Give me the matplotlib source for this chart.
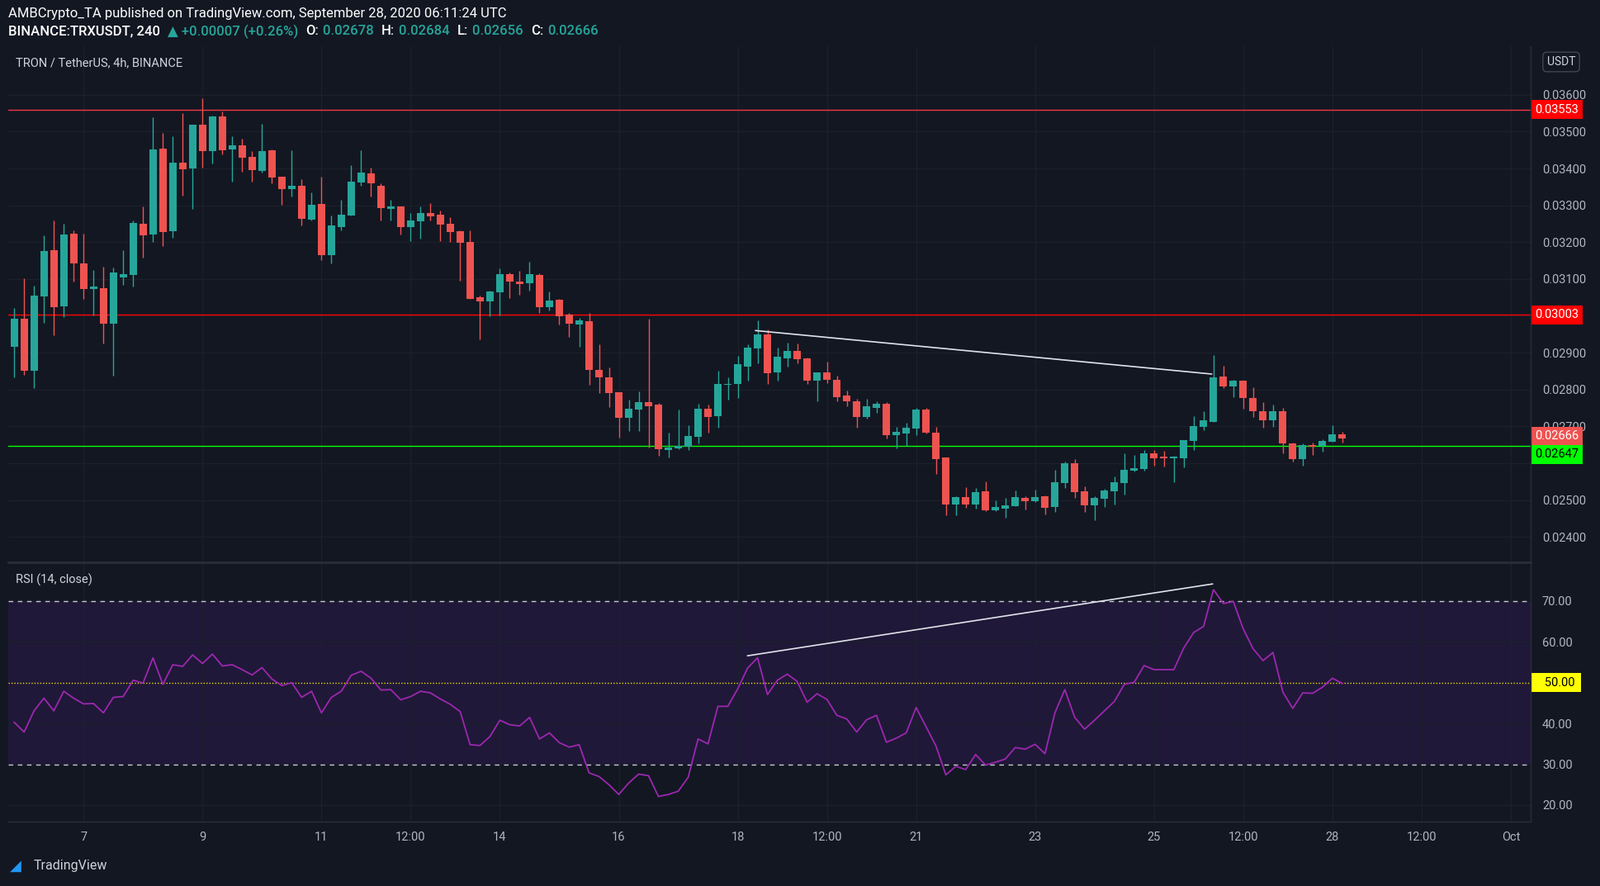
import numpy as np
import matplotlib
matplotlib.use("Agg")
import matplotlib.pyplot as plt
from matplotlib.ticker import FuncFormatter
import matplotlib.transforms as mtransforms

plt.rcParams["font.family"] = ["Roboto", "DejaVu Sans"]

# TRX/USDT 4h candles, prices in thousandths of USDT (first candle: Sep 5 20:00)
opens = [29.16, 29.92, 28.52, 30.53, 31.79, 30.25, 32.23, 31.43, 30.72, 30.76,
         29.79, 31.05, 31.12, 32.50, 32.21, 34.54, 32.30, 34.16, 34.00, 35.19,
         34.47, 35.41, 34.52, 34.63, 34.32, 33.94, 34.50, 33.78, 33.44, 33.54,
         32.61, 33.03, 31.65, 32.41, 32.72, 33.63, 33.87, 33.52, 32.90, 32.96,
         32.42, 32.56, 32.80, 32.74, 32.49, 32.29, 32.00, 30.51, 30.39, 30.64,
         31.13, 30.93, 30.89, 31.11, 30.24, 30.44, 30.04, 29.77, 29.86, 28.54,
         28.34, 27.92, 27.23, 27.45, 27.65, 27.58, 26.36, 26.40, 26.45, 26.71,
         27.47, 27.27, 28.12, 28.14, 28.63, 29.12, 29.50, 28.47, 28.85, 29.05,
         28.85, 28.23, 28.47, 28.27, 27.83, 27.69, 27.25, 27.51, 27.62, 26.75,
         26.80, 26.93, 27.45, 26.82, 26.15, 24.88, 25.08, 24.88, 25.24, 24.72,
         24.76, 24.84, 25.06, 24.97, 25.10, 24.81, 25.46, 26.00, 25.24, 24.86,
         25.04, 25.24, 25.46, 25.80, 25.84, 26.26, 26.18, 26.14, 26.14, 26.60,
         26.98, 27.13, 28.36, 28.09, 28.23, 27.78, 27.42, 27.16, 27.42, 26.53,
         26.11, 26.49, 26.46, 26.58, 26.78]
highs = [30.21, 31.02, 30.82, 32.19, 32.59, 32.50, 32.32, 32.23, 31.25, 31.34,
         31.32, 31.79, 32.59, 32.96, 35.39, 34.96, 34.87, 35.50, 35.19, 35.90,
         35.43, 35.54, 34.87, 34.81, 34.47, 35.21, 34.52, 33.78, 34.50, 33.70,
         33.36, 33.78, 32.72, 33.16, 34.10, 34.50, 34.03, 33.59, 33.16, 32.96,
         32.80, 32.96, 33.05, 32.85, 32.67, 32.31, 32.31, 30.55, 30.68, 31.29,
         31.17, 31.22, 31.46, 31.15, 30.66, 30.46, 30.08, 29.95, 30.08, 29.23,
         28.59, 27.92, 27.72, 27.94, 29.93, 27.63, 26.83, 27.45, 27.03, 27.61,
         27.58, 28.50, 28.32, 28.92, 29.23, 29.88, 29.64, 29.14, 29.28, 29.25,
         28.87, 28.47, 28.76, 28.38, 27.96, 27.74, 27.74, 27.69, 27.65, 26.98,
         27.09, 27.49, 27.49, 26.98, 26.15, 25.10, 25.35, 25.33, 25.51, 24.99,
         25.06, 25.26, 25.10, 25.28, 25.13, 25.81, 26.04, 26.11, 25.37, 25.10,
         25.30, 25.64, 26.26, 26.22, 26.35, 26.35, 26.33, 26.19, 26.62, 27.27,
         27.42, 28.94, 28.65, 28.27, 28.23, 28.05, 27.65, 27.58, 27.51, 26.55,
         26.53, 26.55, 26.64, 27.04, 26.84]
lows = [28.32, 28.39, 28.04, 29.81, 29.48, 29.96, 30.93, 30.46, 30.01, 29.26,
        28.37, 30.85, 30.79, 31.59, 32.01, 31.90, 32.12, 33.26, 32.90, 34.03,
        34.14, 34.39, 33.65, 33.92, 33.64, 33.90, 33.59, 33.01, 33.23, 32.45,
        32.59, 31.52, 31.43, 32.32, 32.72, 33.54, 33.25, 32.59, 32.59, 32.20,
        32.02, 32.09, 32.60, 32.02, 32.00, 30.95, 30.46, 29.37, 29.99, 30.01,
        30.48, 30.57, 30.68, 30.08, 30.15, 29.77, 29.43, 29.17, 28.12, 27.90,
        27.52, 26.69, 26.87, 26.87, 26.42, 26.20, 26.16, 26.38, 26.36, 26.54,
        26.83, 26.96, 27.72, 27.78, 28.25, 28.70, 28.14, 28.23, 28.63, 28.70,
        28.14, 27.67, 28.18, 27.69, 27.54, 26.96, 27.20, 27.36, 26.67, 26.40,
        26.46, 26.75, 26.80, 25.71, 24.59, 24.59, 24.79, 24.76, 24.70, 24.70,
        24.52, 24.84, 24.75, 24.95, 24.61, 24.68, 25.33, 25.06, 24.68, 24.46,
        24.81, 24.88, 25.15, 25.77, 25.80, 25.93, 25.91, 25.49, 25.89, 26.35,
        26.89, 27.11, 28.03, 27.80, 27.47, 27.25, 26.96, 26.99, 26.26, 26.04,
        25.93, 26.22, 26.31, 26.58, 26.55]
closes = [29.92, 28.52, 30.54, 31.76, 30.23, 32.21, 31.43, 30.72, 30.79, 29.79,
          31.17, 31.14, 32.52, 32.19, 34.52, 32.27, 34.16, 33.99, 35.19, 34.47,
          35.41, 34.50, 34.63, 34.30, 33.96, 34.47, 33.76, 33.44, 33.54, 32.63,
          33.01, 31.65, 32.45, 32.74, 33.65, 33.90, 33.59, 32.92, 32.96, 32.42,
          32.58, 32.80, 32.71, 32.47, 32.27, 31.98, 30.46, 30.39, 30.66, 31.13,
          30.93, 30.87, 31.13, 30.24, 30.42, 29.99, 29.79, 29.88, 28.54, 28.32,
          27.90, 27.23, 27.47, 27.65, 27.54, 26.38, 26.42, 26.47, 26.74, 27.47,
          27.25, 28.14, 28.16, 28.68, 29.14, 29.50, 28.45, 28.88, 29.05, 28.83,
          28.23, 28.47, 28.27, 27.80, 27.67, 27.25, 27.54, 27.62, 26.75, 26.84,
          26.96, 27.45, 26.82, 26.11, 24.88, 25.08, 24.88, 25.22, 24.72, 24.81,
          24.86, 25.08, 24.97, 25.08, 24.79, 25.48, 26.00, 25.22, 24.86, 25.06,
          25.26, 25.48, 25.81, 25.86, 26.26, 26.13, 26.13, 26.16, 26.62, 27.00,
          27.16, 28.34, 28.09, 28.23, 27.76, 27.40, 27.16, 27.40, 26.53, 26.11,
          26.49, 26.44, 26.60, 26.78, 26.66]
rsi = [40.3, 37.9, 43.1, 46.2, 43.1, 47.9, 46.2, 44.8, 44.9, 42.6,
       46.4, 46.6, 50.6, 49.9, 56.1, 49.6, 54.4, 54.0, 56.8, 54.7,
       57.0, 54.1, 54.4, 53.2, 51.9, 53.7, 50.9, 49.3, 50.0, 46.4,
       47.9, 42.6, 46.4, 47.9, 51.8, 52.8, 51.1, 48.2, 48.3, 45.8,
       46.6, 47.9, 47.5, 46.0, 44.7, 42.9, 34.8, 34.6, 36.8, 40.8,
       39.7, 39.4, 41.5, 36.2, 37.7, 35.3, 34.2, 34.8, 27.9, 27.0,
       25.0, 22.6, 25.4, 27.6, 27.2, 22.1, 22.6, 23.4, 26.8, 36.2,
       35.0, 44.2, 44.2, 48.5, 53.6, 56.1, 47.1, 50.6, 52.1, 50.3,
       45.2, 47.3, 45.9, 42.0, 41.1, 37.9, 40.9, 42.0, 35.4, 36.4,
       37.7, 43.9, 39.2, 34.5, 27.4, 29.5, 28.7, 32.4, 29.8, 30.5,
       31.3, 34.1, 33.7, 34.9, 32.6, 42.6, 48.3, 41.5, 38.6, 40.8,
       43.1, 45.4, 49.6, 50.1, 54.2, 53.2, 53.2, 53.2, 58.5, 62.3,
       63.8, 72.8, 69.4, 69.9, 63.2, 58.3, 55.4, 57.4, 47.7, 43.7,
       47.5, 47.4, 48.9, 51.1, 49.8]

tick_pos = [7, 19, 31, 40, 49, 61, 73, 82, 91, 103, 115, 124, 133, 142, 151]
tick_labels = ["7", "9", "11", "12:00", "14", "16", "18", "12:00", "21", "23",
               "25", "12:00", "28", "12:00", "Oct"]
price_ticks = [24, 25, 26, 27, 28, 29, 30, 31, 32, 33, 34, 35, 36]
hidden_price_ticks = [26, 30]   # covered by the level boxes
rsi_ticks = [20, 30, 40, 60, 70]

# horizontal levels and trend lines (drawn by the author)
levels = [(35.60, "#f23645"), (30.03, "#ff0000"), (26.47, "#00ff00")]
price_trend = ([74.8, 120.8], [29.60, 28.42])
rsi_trend = ([74.0, 120.9], [56.6, 74.2])
# right-axis labels: text, position, box colour, text colour
axis_labels = [("0.03553", 35.60, "#ff0000", "white"), ("0.03003", 30.03, "#ff0000", "white"),
               ("0.02666", 26.74, "#ef5350", "white"), ("0.02647", 26.24, "#00ff00", "black")]

BG = "#131722"
GRID = "#1c202b"
TXT = "#b2b5be"
UP = "#26a69a"
DOWN = "#ef5350"

W, H = 1938, 1073
fig = plt.figure(figsize=(W / 100, H / 100), dpi=100, facecolor=BG)


def fx(px):
    return px / W


def fy(py):
    return 1 - py / H


def price_fmt(v, p):
    if round(v) in hidden_price_ticks:
        return ""
    return f"{v / 1000:.5f}"


ax = fig.add_axes([fx(10), fy(680), fx(1854 - 10), fy(56) - fy(680)], facecolor=BG)
ax2 = fig.add_axes([fx(10), fy(995), fx(1854 - 10), fy(682) - fy(995)], facecolor=BG,
                   sharex=ax)

o = np.array(opens)
c = np.array(closes)
hi = np.array(highs)
lo = np.array(lows)
x = np.arange(len(o))
col = np.where(c >= o, UP, DOWN)

ax.vlines(x, lo, hi, colors=col, linewidth=1.0, zorder=3)
body = np.maximum(np.abs(c - o), 0.04)
ax.bar(x, body, bottom=np.minimum(o, c), width=0.75, color=col, zorder=4)

for lvl, lc in levels:
    ax.axhline(lvl, color=lc, linewidth=1.0, zorder=2)
ax.plot(price_trend[0], price_trend[1], color="#e0e3eb", linewidth=1.2, zorder=5)

ax.set_xlim(-0.6, 153)
ax.set_ylim(23.33, 37.32)
ax.set_yticks(price_ticks)
ax.yaxis.set_major_formatter(FuncFormatter(price_fmt))

# RSI pane
ax2.axhspan(30, 70, color="#201838", linewidth=0, zorder=0)
ax2.axhline(70, color="#c8cad0", linestyle=(0, (4, 4)), linewidth=1.0)
ax2.axhline(30, color="#c8cad0", linestyle=(0, (4, 4)), linewidth=1.0)
ax2.axhline(50, color="#e8e000", linestyle=(0, (1, 1.5)), linewidth=1.0)
ax2.plot(x, rsi, color="#9c27b0", linewidth=1.3, zorder=4)
ax2.plot(rsi_trend[0], rsi_trend[1], color="#e0e3eb", linewidth=1.2, zorder=5)
ax2.set_ylim(15.95, 79.3)
ax2.set_yticks(rsi_ticks)
ax2.yaxis.set_major_formatter(FuncFormatter(lambda v, p: f"{v:.2f}"))
ax2.set_xticks(tick_pos)
ax2.set_xticklabels(tick_labels)

for a in (ax, ax2):
    a.yaxis.tick_right()
    a.tick_params(axis="y", colors=TXT, labelsize=10.5, length=0, pad=10)
    a.tick_params(axis="x", colors=TXT, labelsize=10.5, length=0, pad=9)
    a.grid(True, color=GRID, linewidth=1.0, zorder=0)
    a.set_axisbelow(True)
    for s in a.spines.values():
        s.set_visible(False)
ax2.grid(False, axis="y")
for g in (20, 40, 60):
    ax2.axhline(g, color=GRID, linewidth=1.0, zorder=1)
plt.setp(ax.get_xticklabels(), visible=False)

# separators
fig.add_artist(plt.Line2D([fx(10), fx(1854)], [fy(681), fy(681)], color="#2a2e39", linewidth=2))
fig.add_artist(plt.Line2D([fx(1854), fx(1854)], [fy(56), fy(995)], color="#2a2e39", linewidth=1))
fig.add_artist(plt.Line2D([fx(10), fx(1854)], [fy(995), fy(995)], color="#2a2e39", linewidth=1))

# right-axis price labels
tr = mtransforms.blended_transform_factory(ax.transAxes, ax.transData)
for s, val, bg, fg in axis_labels:
    ax.text(1.003, val, s, transform=tr, ha="left", va="center",
            fontsize=10.5, color=fg, zorder=10, clip_on=False,
            bbox=dict(boxstyle="square,pad=0.3", fc=bg, ec="none"))
tr2 = mtransforms.blended_transform_factory(ax2.transAxes, ax2.transData)
ax2.text(1.003, 50, "   50.00 ", transform=tr2, ha="left", va="center", fontsize=10.5,
         color="black", clip_on=False, bbox=dict(boxstyle="square,pad=0.3", fc="#ffff00", ec="none"))

# header texts
fig.text(fx(10), fy(16), "AMBCrypto_TA published on TradingView.com, September 28, 2020 06:11:24 UTC",
         color="white", fontsize=12, va="center")
segs = [("BINANCE:TRXUSDT, 240 ", "white"), ("▲ +0.00007 (+0.26%) ", UP),
        ("O:", "white"), ("0.02678 ", UP), ("H:", "white"), ("0.02684 ", UP),
        ("L:", "white"), ("0.02656 ", UP), ("C:", "white"), ("0.02666", UP)]
renderer = fig.canvas.get_renderer()
xpos = 10
for s, cc in segs:
    t = fig.text(fx(xpos), fy(38), s, color=cc, fontsize=12, va="center", fontweight="medium")
    xpos += t.get_window_extent(renderer).width + 5
fig.text(fx(19), fy(76), "TRON / TetherUS, 4h, BINANCE", color="#d1d4dc", fontsize=10.5, va="center")
fig.text(fx(19), fy(702), "RSI (14, close)", color="#d1d4dc", fontsize=10.5, va="center")
fig.text(fx(1891), fy(75), "USDT", color="#d1d4dc", fontsize=10, va="center", ha="center",
         bbox=dict(boxstyle="round,pad=0.35", fc=BG, ec="#434651"))
fig.text(fx(41), fy(1049), "TradingView", color="#d1d4dc", fontsize=11.5, va="center")
fig.text(fx(12), fy(1049), "◢", color="#2196f3", fontsize=13, va="center")

fig.savefig("out.png", dpi=100, facecolor=BG)
